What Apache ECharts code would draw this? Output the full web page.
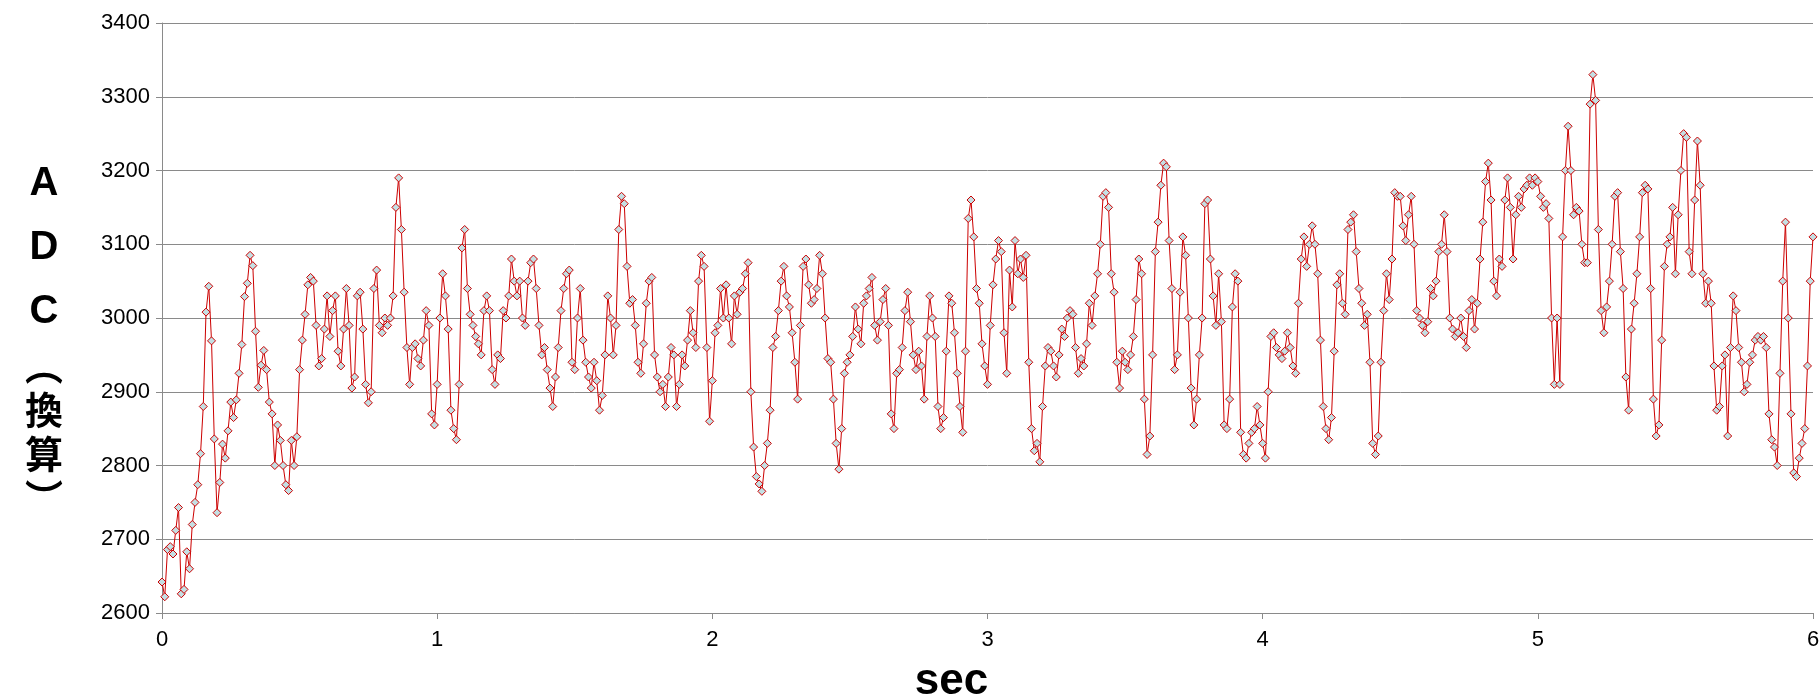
<!DOCTYPE html>
<html>
<head>
<meta charset="utf-8">
<script src="https://cdn.jsdelivr.net/npm/echarts@6/dist/echarts.min.js"></script>
<style>
html,body{margin:0;padding:0;background:#fff;}
#chart{width:1820px;height:700px;}
</style>
</head>
<body>
<div id="chart"></div>
<script>
// sample step (seconds)
const dt = 0.01;
// ADC values, one array per second (100 samples/s)
const adc0 = [2642,2622,2686,2690,2680,2712,2743,2626,2632,2683,
  2660,2720,2750,2774,2816,2880,3008,3043,2969,2836,
  2736,2777,2829,2810,2847,2886,2865,2889,2925,2964,
  3029,3047,3085,3071,2982,2906,2936,2956,2930,2886,
  2870,2800,2855,2834,2800,2774,2766,2834,2800,2839,
  2930,2970,3005,3045,3055,3050,2990,2935,2945,2985,
  3030,2975,3010,3030,2955,2935,2985,3040,2990,2905,
  2920,3030,3035,2985,2910,2885,2900,3040,3065,2990,
  2980,3000,2990,3000,3030,3150,3190,3120,3035,2960,
  2910,2960,2965,2945,2935,2970,3010,2990,2870,2855];
const adc1 = [2910,3000,3060,3030,2985,2875,2850,2835,2910,3095,
  3120,3040,3005,2990,2975,2965,2950,3010,3030,3010,
  2930,2910,2950,2945,3010,3000,3030,3080,3050,3030,
  3050,3000,2990,3050,3075,3080,3040,2990,2950,2960,
  2930,2905,2880,2920,2960,3010,3040,3060,3065,2940,
  2930,3000,3040,2970,2940,2920,2905,2940,2915,2875,
  2895,2950,3030,3000,2950,2990,3120,3165,3155,3070,
  3020,3025,2990,2940,2925,2965,3020,3050,3055,2950,
  2920,2900,2910,2880,2920,2960,2950,2880,2910,2950,
  2935,2970,3010,2980,2960,3050,3085,3070,2960,2860];
const adc2 = [2915,2980,2990,3040,3000,3045,3000,2965,3030,3005,
  3035,3040,3060,3075,2900,2825,2785,2775,2765,2800,
  2830,2875,2960,2975,3010,3050,3070,3030,3015,2980,
  2940,2890,2990,3070,3080,3045,3020,3025,3040,3085,
  3060,3000,2945,2940,2890,2830,2795,2850,2925,2940,
  2950,2975,3015,2985,2965,3020,3030,3040,3055,2990,
  2970,2995,3025,3040,2990,2870,2850,2925,2930,2960,
  3010,3035,2995,2950,2930,2955,2935,2890,2975,3030,
  3000,2975,2880,2850,2865,2955,3030,3020,2980,2925,
  2880,2845,2955,3135,3160,3110,3040,3020,2965,2935];
const adc3 = [2910,2990,3045,3080,3105,3090,2980,2925,3065,3015,
  3105,3060,3080,3055,3085,2940,2850,2820,2830,2805,
  2880,2935,2960,2955,2935,2920,2950,2985,2975,3000,
  3010,3005,2960,2925,2945,2935,2965,3020,2990,3030,
  3060,3100,3165,3170,3150,3060,3035,2940,2905,2955,
  2940,2930,2950,2975,3025,3080,3060,2890,2815,2840,
  2950,3090,3130,3180,3210,3205,3105,3040,2930,2950,
  3035,3110,3085,3000,2905,2855,2890,2950,3000,3155,
  3160,3080,3030,2990,3060,2995,2855,2850,2890,3015,
  3060,3050,2845,2815,2810,2830,2845,2850,2880,2855];
const adc4 = [2830,2810,2900,2975,2980,2960,2950,2945,2955,2980,
  2960,2935,2925,3020,3080,3110,3070,3100,3125,3100,
  3060,2970,2880,2850,2835,2865,2955,3045,3060,3020,
  3005,3120,3130,3140,3090,3040,3020,2990,3005,2940,
  2830,2815,2840,2940,3010,3060,3025,3080,3170,3165,
  3165,3125,3105,3140,3165,3100,3010,3000,2990,2980,
  2995,3040,3030,3050,3090,3100,3140,3090,3000,2985,
  2975,2980,3000,2975,2960,3010,3025,2985,3020,3080,
  3130,3185,3210,3160,3050,3030,3080,3070,3160,3190,
  3150,3080,3140,3165,3150,3175,3180,3190,3180,3190];
const adc5 = [3185,3165,3150,3155,3135,3000,2910,3000,2910,3110,
  3200,3260,3200,3140,3150,3145,3100,3075,3075,3290,
  3330,3295,3120,3010,2980,3015,3050,3100,3165,3170,
  3090,3040,2920,2875,2985,3020,3060,3110,3170,3180,
  3175,3040,2890,2840,2855,2970,3070,3100,3110,3150,
  3060,3140,3200,3250,3245,3090,3060,3160,3240,3180,
  3060,3020,3050,3020,2935,2875,2880,2935,2950,2840,
  2960,3030,3010,2960,2940,2900,2910,2940,2950,2970,
  2975,2970,2975,2960,2870,2835,2825,2800,2925,3050,
  3130,3000,2870,2790,2785,2810,2830,2850,2935,3050,
  3110];
const xTicks = [0,1,2,3,4,5,6];
const yTicks = [2600,2700,2800,2900,3000,3100,3200,3300,3400];
const xTitle = 'sec';
const yTitleLatin = ['A','D','C'];
const yTitleCJK = ['︵','換','算','︶'];

const values = [].concat(adc0, adc1, adc2, adc3, adc4, adc5);
const seriesData = values.map((v, i) => [Math.round(i * dt * 1000) / 1000, v]);

// y title stacked vertically, as in the original
const yTitleRich = yTitleLatin.map(c => '{a|' + c + '}')
  .concat(yTitleCJK.map(c => '{c|' + c + '}')).join('\n');

const chart = echarts.init(document.getElementById('chart'), null, {renderer: 'canvas'});
const gridColor = '#8a8a8a';
const labelFont = 'Liberation Sans, Arial, sans-serif';
chart.setOption({
  animation: false,
  backgroundColor: '#ffffff',
  grid: {left: 162, right: 7, top: 23, bottom: 87, containLabel: false, outerBoundsMode: 'none'},
  xAxis: {
    type: 'value',
    min: xTicks[0], max: xTicks[xTicks.length - 1], interval: 1,
    name: xTitle,
    nameLocation: 'middle',
    nameGap: 47,
    nameTextStyle: {fontSize: 44, fontWeight: 'bold', color: '#000', fontFamily: labelFont, padding: [0, 72, 0, 0]},
    axisLine: {show: true, lineStyle: {color: gridColor, width: 1}},
    axisTick: {show: true, inside: false, length: 6, lineStyle: {color: gridColor}},
    axisLabel: {fontSize: 22, color: '#000', margin: 16, fontFamily: labelFont},
    splitLine: {show: false}
  },
  yAxis: {
    type: 'value',
    min: yTicks[0], max: yTicks[yTicks.length - 1], interval: 100,
    name: yTitleRich,
    nameLocation: 'middle',
    nameRotate: 0,
    nameGap: 118,
    nameTextStyle: {
      color: '#000', align: 'center', padding: [36, 0, 0, 0],
      rich: {
        a: {fontSize: 40, fontWeight: 'bold', lineHeight: 64, color: '#000', fontFamily: labelFont},
        c: {fontSize: 38, fontWeight: 'bold', lineHeight: 44, color: '#000', fontFamily: '"Noto Sans CJK JP", sans-serif'}
      }
    },
    axisLine: {show: true, lineStyle: {color: gridColor, width: 1}},
    axisTick: {show: true, inside: false, length: 6, lineStyle: {color: gridColor}},
    axisLabel: {fontSize: 22, color: '#000', margin: 12, fontFamily: labelFont,
      formatter: v => String(v)},
    splitLine: {show: true, lineStyle: {color: gridColor, width: 1}}
  },
  series: [{
    type: 'line',
    data: seriesData,
    symbol: 'diamond',
    symbolSize: 8,
    showAllSymbol: true,
    itemStyle: {color: '#c4dfe3', borderColor: '#cc0000', borderWidth: 1},
    lineStyle: {color: '#cc0000', width: 1},
    emphasis: {disabled: true}
  }]
});
</script>
</body>
</html>
